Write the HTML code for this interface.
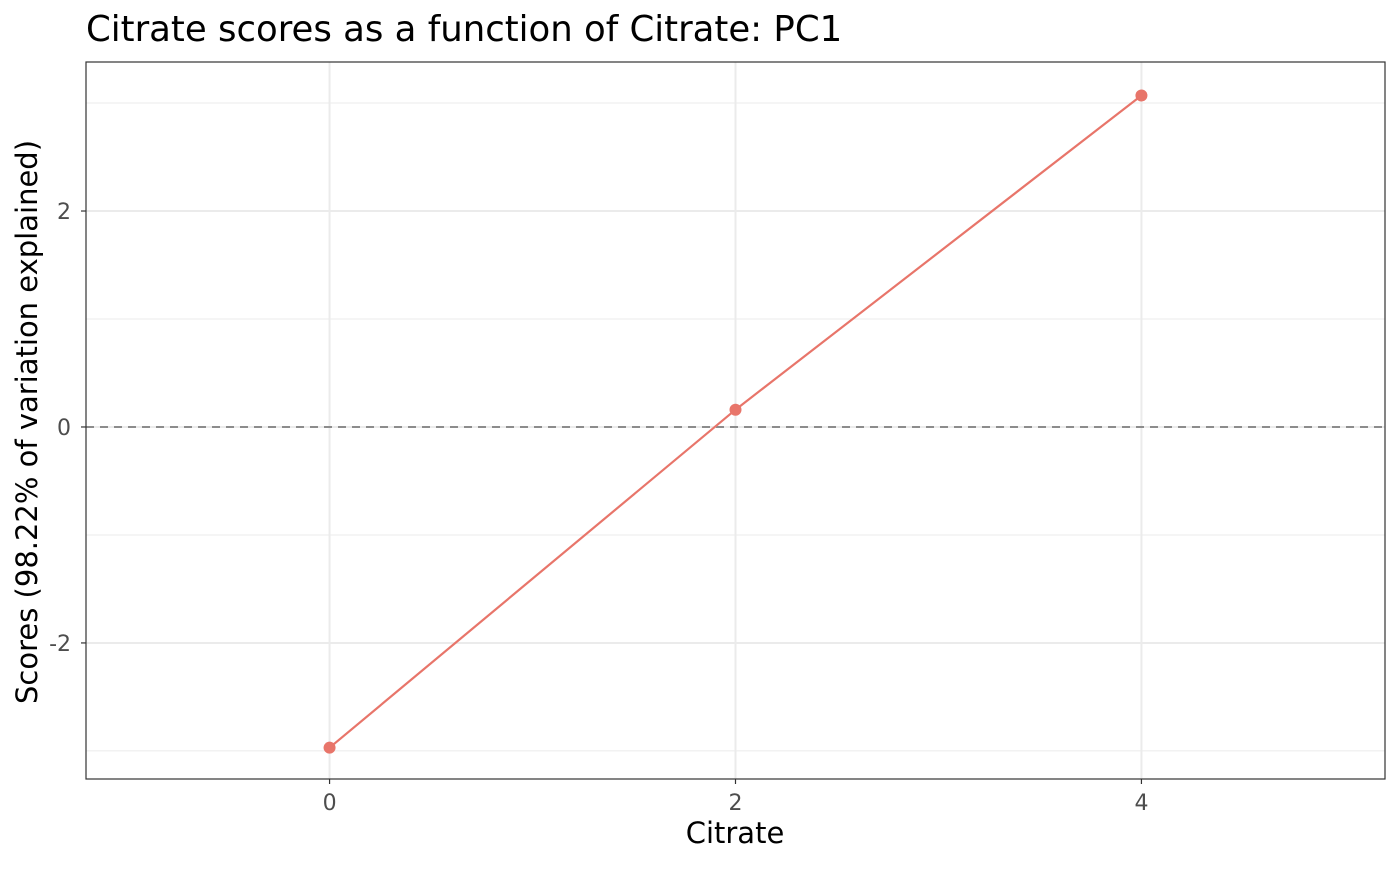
<!DOCTYPE html>
<html><head><meta charset="utf-8"><style>
body{margin:0;background:#fff;}
svg text{font-family:"DejaVu Sans","Liberation Sans",sans-serif;}
</style></head><body>
<svg id="chart" width="1400" height="865" xmlns="http://www.w3.org/2000/svg">
<text x="86" y="41" font-size="35.5" fill="#000">Citrate scores as a function of Citrate: PC1</text>
<g id="grid"></g>
<g id="marks"></g>
<rect x="86" y="62" width="1299" height="717" fill="none" stroke="#333" stroke-width="1.2"/>
<g id="axes"></g>
<text x="735" y="843" font-size="29" text-anchor="middle">Citrate</text>
<text transform="translate(37,422) rotate(-90)" font-size="29" text-anchor="middle">Scores (98.22% of variation explained)</text>
</svg>
<script>
const categories=[0,2,4];
const scores=[-2.97,0.16,3.07];
const xTicks=[0,2,4];
const yTicks=[-2,0,2];
const yMinor=[-3,-1,1,3];
const L=86,R=1385,T=62,B=779;
const X0=-1.2,X1=5.2,Y0=-3.26,Y1=3.38;
const sx=v=>L+(v-X0)/(X1-X0)*(R-L);
const sy=v=>B-(v-Y0)/(Y1-Y0)*(B-T);
const NS="http://www.w3.org/2000/svg";
function mk(tag,attrs,parent){const e=document.createElementNS(NS,tag);for(const k in attrs)e.setAttribute(k,attrs[k]);parent.appendChild(e);return e;}
const grid=document.getElementById('grid'),marks=document.getElementById('marks'),axes=document.getElementById('axes');
yMinor.forEach(v=>{const l=mk('line',{x1:L,x2:R,y1:sy(v),y2:sy(v),stroke:'#ebebeb','stroke-width':1},grid);

});
yTicks.forEach(v=>{const l=mk('line',{x1:L,x2:R,y1:sy(v),y2:sy(v),stroke:'#ebebeb','stroke-width':2},grid);


const t=mk('line',{x1:L-5,x2:L,y1:sy(v),y2:sy(v),stroke:'#333','stroke-width':1.2},axes);


const tx=mk('text',{x:L-15,y:sy(v)+8,'font-size':22,fill:'#4d4d4d','text-anchor':'end'},axes);tx.textContent=v;

});
xTicks.forEach(v=>{const l=mk('line',{x1:sx(v),x2:sx(v),y1:T,y2:B,stroke:'#ebebeb','stroke-width':2},grid);


const t=mk('line',{x1:sx(v),x2:sx(v),y1:B,y2:B+5,stroke:'#333','stroke-width':1.2},axes);


const tx=mk('text',{x:sx(v),y:B+31,'font-size':22,fill:'#4d4d4d','text-anchor':'middle'},axes);tx.textContent=v;

});
const z=mk('line',{x1:L,x2:R,y1:sy(0),y2:sy(0),stroke:'#8c8c8c','stroke-width':2,'stroke-dasharray':'8,6'},marks);


const pl=mk('polyline',{points:categories.map((c,i)=>sx(c)+','+sy(scores[i])).join(' '),fill:'none',stroke:'#e8756a','stroke-width':2.2},marks);


categories.forEach((c,i)=>{const p=mk('circle',{cx:sx(c),cy:sy(scores[i]),r:6,fill:'#e8756a'},marks);

});
</script>
</body></html>
